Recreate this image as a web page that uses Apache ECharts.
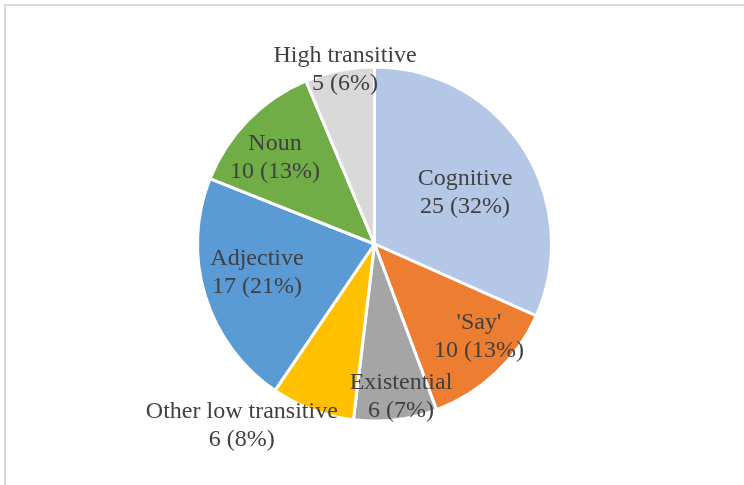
<!DOCTYPE html>
<html>
<head>
<meta charset="utf-8">
<script src="https://cdn.jsdelivr.net/npm/echarts@6/dist/echarts.min.js"></script>
<style>
  html, body { margin: 0; padding: 0; background: #ffffff; }
  #chart { width: 744px; height: 485px; }
</style>
</head>
<body>
<div id="chart"></div>
<script>
// Verb categories, counts and the rounded shares shown on the labels
const categories = ['Cognitive', "'Say'", 'Existential', 'Other low transitive', 'Adjective', 'Noun', 'High transitive'];
const counts = [25, 10, 6, 6, 17, 10, 5];
const shareLabels = ['32%', '13%', '7%', '8%', '21%', '13%', '6%'];
const colors = ['#b4c7e7', '#ed7d31', '#a5a5a5', '#ffc000', '#5b9bd5', '#70ad47', '#d9d9d9'];

// Label placement: distance from centre as a fraction of the radius,
// and an angular nudge (degrees) from the middle of each slice
const labelRadius = [0.587, 0.79, 0.877, 1.272, 0.684, 0.743, 0.997];
const labelAngleNudge = [3.6, -5.0, -3.0, 15.6, 3.2, -3.6, 1.8];

const CX = 374.5, CY = 244, R = 177;

const total = counts.reduce((a, b) => a + b, 0);
const midAngles = [];
let acc = 0;
counts.forEach(v => { midAngles.push((acc + v / 2) / total * 360); acc += v; });

const chart = echarts.init(document.getElementById('chart'), null, { renderer: 'canvas' });

chart.setOption({
  animation: false,
  backgroundColor: '#ffffff',
  graphic: [{
    type: 'rect',
    shape: { x: 5, y: 5, width: 900, height: 700 },
    style: { fill: 'none', stroke: '#d9d9d9', lineWidth: 2 },
    silent: true,
    z: -1
  }],
  series: [{
    type: 'pie',
    center: [CX, CY],
    radius: [0, R],
    startAngle: 90,
    clockwise: true,
    avoidLabelOverlap: false,
    itemStyle: { borderColor: '#ffffff', borderWidth: 3 },
    label: {
      show: true,
      position: 'inside',
      formatter: p => p.name + '\n' + p.value + ' (' + shareLabels[p.dataIndex] + ')',
      fontFamily: '"Liberation Serif", "Times New Roman", serif',
      fontSize: 24,
      lineHeight: 28,
      color: '#404040',
      align: 'center'
    },
    labelLine: { show: false },
    labelLayout: params => {
      const i = params.dataIndex;
      const a = (midAngles[i] + labelAngleNudge[i]) * Math.PI / 180;
      const r = labelRadius[i] * R;
      return {
        x: CX + r * Math.sin(a),
        y: CY - r * Math.cos(a),
        align: 'center',
        verticalAlign: 'middle'
      };
    },
    emphasis: { disabled: true },
    data: categories.map((name, i) => ({ name, value: counts[i], itemStyle: { color: colors[i] } }))
  }]
});
</script>
</body>
</html>
